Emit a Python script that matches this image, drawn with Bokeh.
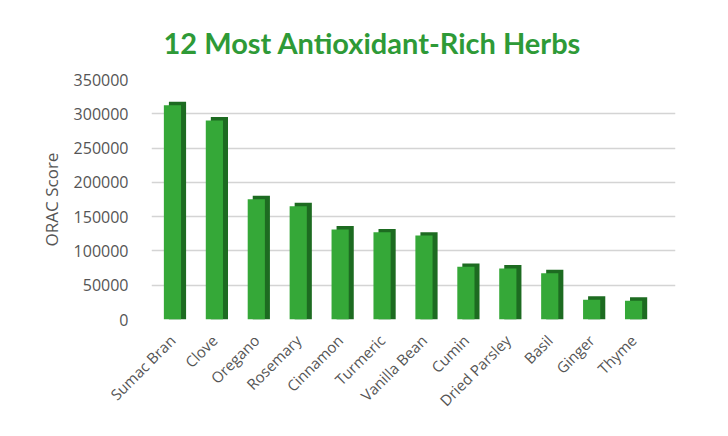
from bokeh.plotting import figure
from bokeh.models import ColumnDataSource, FixedTicker, Range1d, Title
from bokeh.transform import dodge
from bokeh.embed import file_html
from bokeh.resources import INLINE
from math import pi

# ---- data ----
herbs = ["Sumac Bran", "Clove", "Oregano", "Rosemary", "Cinnamon", "Turmeric",
         "Vanilla Bean", "Cumin", "Dried Parsley", "Basil", "Ginger", "Thyme"]
orac = [312400, 290283, 175295, 165280, 131420, 127068,
        122400, 76800, 74349, 67553, 28811, 27426]
y_ticks = [0, 50000, 100000, 150000, 200000, 250000, 300000, 350000]

title_text = "12 Most Antioxidant-Rich Herbs"
y_label = "ORAC Score"

# ---- styling ----
FRONT = "#35a838"
SIDE = "#1d6b21"
TITLE_GREEN = "#2e9a37"
LABEL_GRAY = "#555555"
GRID = "#d4d4d4"
CAP = 5000  # depth of the 3D cap in data units

xs = list(range(len(herbs)))
source = ColumnDataSource(dict(x=xs, top=orac, back_top=[v + CAP for v in orac]))

p = figure(width=712, height=420, output_backend="svg", toolbar_location=None,
           x_range=Range1d(-0.5, 12.0), y_range=Range1d(0, 350000),
           min_border_left=151, min_border_right=37, min_border_top=79,
           min_border_bottom=101)
p.outline_line_color = None
p.background_fill_color = "white"
p.border_fill_color = "white"

t = Title(text=title_text, align="left", offset=12,
          text_font="Lato", text_font_size="29px", text_font_style="bold",
          text_color=TITLE_GREEN, standoff=40)
p.add_layout(t, "above")

# back/side face (darker), then front face
p.vbar(x=dodge("x", 0.12, range=p.x_range), top="back_top", width=0.41, bottom=0,
       source=source, fill_color=SIDE, line_color=None)
p.vbar(x="x", top="top", width=0.41, bottom=0, source=source,
       fill_color=FRONT, line_color=None)

# axes
p.xaxis.ticker = FixedTicker(ticks=xs)
p.xaxis.major_label_overrides = {i: h for i, h in zip(xs, herbs)}
p.xaxis.major_label_orientation = pi / 4
p.xaxis.major_label_text_font = "Open Sans"
p.xaxis.major_label_text_font_size = "15px"
p.xaxis.major_label_text_color = LABEL_GRAY
p.xaxis.major_label_standoff = 12
p.xaxis.axis_line_color = None
p.xaxis.major_tick_line_color = None
p.xaxis.minor_tick_line_color = None
p.xgrid.grid_line_color = None

p.yaxis.ticker = FixedTicker(ticks=y_ticks)
p.yaxis.formatter.use_scientific = False
p.yaxis.major_label_text_font = "Open Sans"
p.yaxis.major_label_text_font_size = "16px"
p.yaxis.major_label_text_color = LABEL_GRAY
p.yaxis.major_label_standoff = 17
p.yaxis.axis_line_color = None
p.yaxis.major_tick_line_color = None
p.yaxis.minor_tick_line_color = None
p.yaxis.axis_label = y_label
p.yaxis.axis_label_text_font = "Open Sans"
p.yaxis.axis_label_text_font_size = "17px"
p.yaxis.axis_label_text_font_style = "normal"
p.yaxis.axis_label_text_color = LABEL_GRAY
p.yaxis.axis_label_standoff = 8
p.ygrid.grid_line_color = GRID
p.ygrid.grid_line_width = 1.5

open("out.html", "w").write(file_html(p, INLINE))
